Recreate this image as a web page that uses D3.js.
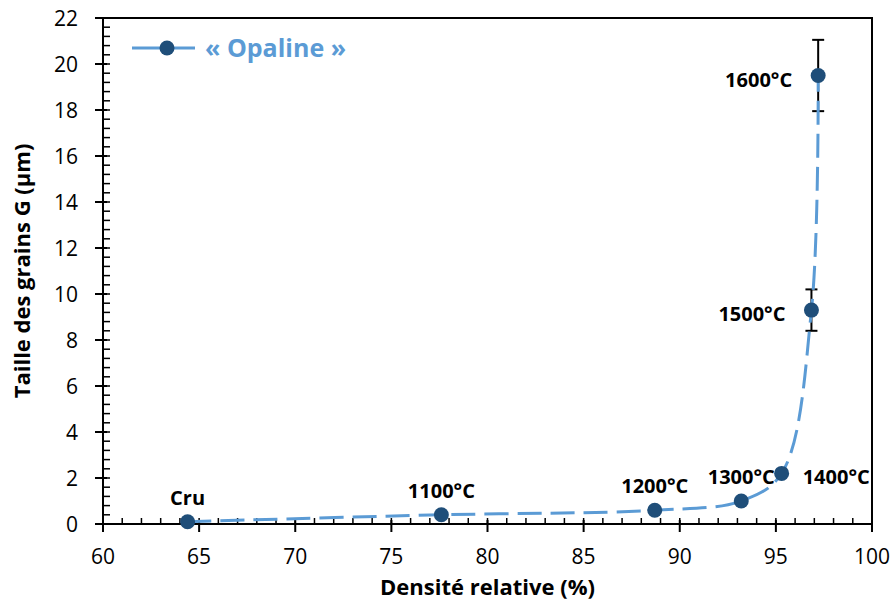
<!DOCTYPE html>
<html><head><meta charset="utf-8">
<script src="https://cdn.jsdelivr.net/npm/d3@7"></script>
<style>
body{margin:0;background:#fff;}
svg{display:block;font-family:"Open Sans",sans-serif;}
</style></head>
<body>
<svg id="chart" width="893" height="600"></svg>
<script>
// ---- data ----
const labels = ["Cru","1100°C","1200°C","1300°C","1400°C","1500°C","1600°C"];
const density = [64.4, 77.6, 88.7, 93.2, 95.3, 96.85, 97.2];
const grainSize = [0.1, 0.4, 0.6, 1.0, 2.2, 9.3, 19.5];
const errors = [0, 0, 0, 0, 0, 0.9, 1.55];
const xTicks = [60,65,70,75,80,85,90,95,100];
const yTicks = [0,2,4,6,8,10,12,14,16,18,20,22];
const seriesName = "« Opaline »";
const xTitle = "Densité relative (%)";
const yTitle = "Taille des grains G (µm)";

// ---- layout ----
const labelPlacement = ["above","above","above","above","right","left","left"];
const lineColor = "#5B9BD5", markerColor = "#1F4E79";
const svg = d3.select("#chart");
const L = 103, R = 872, T = 18, B = 524;
const x = d3.scaleLinear().domain([60,100]).range([L,R]);
const y = d3.scaleLinear().domain([0,22]).range([B,T]);

const pts = labels.map((l,i)=>({label:l, x:density[i], y:grainSize[i], e:errors[i], pos:labelPlacement[i]}));

// minor ticks
const g = svg.append("g");
g.selectAll(".xm").data(d3.range(60,101,1)).join("line")
  .attr("x1",d=>x(d)).attr("x2",d=>x(d)).attr("y1",B).attr("y2",B-6)
  .attr("stroke","#000").attr("stroke-width",1.5);
g.selectAll(".ym").data(d3.range(0,55).map(i=>i*0.4)).join("line")
  .attr("y1",d=>y(d)).attr("y2",d=>y(d)).attr("x1",L).attr("x2",L+7)
  .attr("stroke","#000").attr("stroke-width",1.5);
// major ticks
g.selectAll(".xM").data(xTicks).join("line")
  .attr("x1",d=>x(d)).attr("x2",d=>x(d)).attr("y1",B-4).attr("y2",B+8)
  .attr("stroke","#000").attr("stroke-width",2);
g.selectAll(".yM").data(yTicks).join("line")
  .attr("y1",d=>y(d)).attr("y2",d=>y(d)).attr("x1",L-8).attr("x2",L+4)
  .attr("stroke","#000").attr("stroke-width",2);
// frame
svg.append("rect").attr("x",L).attr("y",T).attr("width",R-L).attr("height",B-T)
  .attr("fill","none").attr("stroke","#000").attr("stroke-width",2);

// tick labels
g.selectAll(".xl").data(xTicks).join("text")
  .attr("x",d=>x(d)).attr("y",B+40).attr("text-anchor","middle")
  .attr("font-size",21).attr("fill","#000").text(d=>d);
g.selectAll(".yl").data(yTicks).join("text")
  .attr("x",L-25).attr("y",d=>y(d)+7.5).attr("text-anchor","end")
  .attr("font-size",21).attr("fill","#000").text(d=>d);

// axis titles
svg.append("text").attr("x",(L+R)/2).attr("y",595).attr("text-anchor","middle")
  .attr("font-size",22).attr("font-weight","bold").text(xTitle);
svg.append("text").attr("transform",`translate(30,${(T+B)/2}) rotate(-90)`)
  .attr("text-anchor","middle").attr("font-size",22).attr("font-weight","bold").text(yTitle);

// error bars
const eb = svg.append("g").attr("stroke","#000").attr("stroke-width",2);
pts.filter(d=>d.e>0).forEach(d=>{
  eb.append("line").attr("x1",x(d.x)).attr("x2",x(d.x)).attr("y1",y(d.y+d.e)).attr("y2",y(d.y-d.e));
  eb.append("line").attr("x1",x(d.x)-6).attr("x2",x(d.x)+6).attr("y1",y(d.y+d.e)).attr("y2",y(d.y+d.e));
  eb.append("line").attr("x1",x(d.x)-6).attr("x2",x(d.x)+6).attr("y1",y(d.y-d.e)).attr("y2",y(d.y-d.e));
});

// smooth dashed line
const line = d3.line().x(d=>x(d.x)).y(d=>y(d.y)).curve(d3.curveCatmullRom.alpha(0.5));
svg.append("path").datum(pts).attr("d",line).attr("fill","none")
  .attr("stroke",lineColor).attr("stroke-width",3).attr("stroke-dasharray","24,9");

// markers
svg.selectAll(".pt").data(pts).join("circle")
  .attr("cx",d=>x(d.x)).attr("cy",d=>y(d.y)).attr("r",7.5).attr("fill",markerColor);

// point labels
svg.selectAll(".pl").data(pts).join("text")
  .attr("font-size",20).attr("font-weight","bold").attr("fill","#000")
  .attr("x",d=> d.pos==="above" ? x(d.x) : d.pos==="right" ? x(d.x)+21 : x(d.x)-26)
  .attr("y",d=> d.pos==="above" ? y(d.y)-17 : y(d.y)+11)
  .attr("text-anchor",d=> d.pos==="above" ? "middle" : d.pos==="right" ? "start" : "end")
  .text(d=>d.label);

// legend
const lg = svg.append("g");
lg.append("line").attr("x1",132).attr("x2",195).attr("y1",48).attr("y2",48)
  .attr("stroke",lineColor).attr("stroke-width",3);
lg.append("circle").attr("cx",167).attr("cy",48).attr("r",7.5).attr("fill",markerColor);
lg.append("text").attr("x",205).attr("y",57).attr("font-size",25).attr("font-weight","bold")
  .attr("fill",lineColor).text(seriesName);
</script>
</body></html>
